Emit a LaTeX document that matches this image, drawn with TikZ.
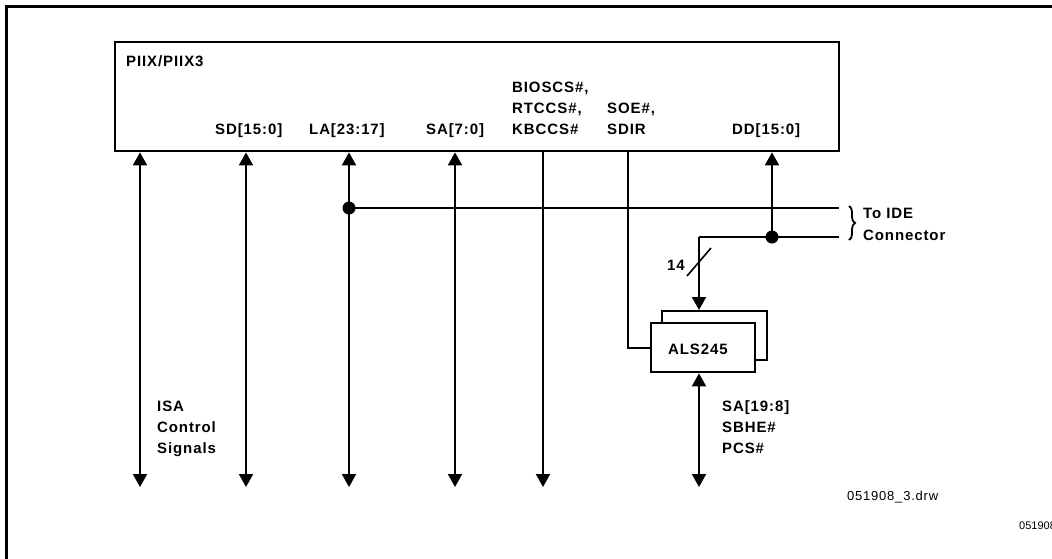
\documentclass[tikz,border=0pt]{standalone}
\usepackage{fontspec}
\setmainfont{Liberation Sans}
\newfontfamily\labfont[LetterSpace=6]{Liberation Sans}
\newfontfamily\drwfont[LetterSpace=6]{Liberation Sans}
\usetikzlibrary{arrows.meta,decorations.pathreplacing}
\begin{document}
\begin{tikzpicture}[x=1pt,y=-1pt,
  wire/.style={line width=2pt},
  chip/.style={draw,line width=2.4pt,inner sep=0pt,anchor=north west},
  lab/.style={anchor=base west,inner sep=0pt,font=\labfont\bfseries\fontsize{15}{21}\selectfont},
  tri/.tip={Triangle[width=14pt,length=13pt]},
  dot/.style={circle,fill,inner sep=0pt,minimum size=13pt}
]
\useasboundingbox (0,0) rectangle (1052,558);
% outer frame
\draw[line width=3pt] (1070,6) -- (6,6) -- (6,580);
% PIIX box
\node[chip,minimum width=724pt,minimum height=109pt] (piix) at (114,41) {};
\node[lab] (tpiix) at (126,66) {PIIX/PIIX3};
\node[lab] (tsd) at (215,134) {SD[15:0]};
\node[lab] (tla) at (309,134) {LA[23:17]};
\node[lab] (tsa) at (426,134) {SA[7:0]};
\node[lab] (tbios) at (512,92) {BIOSCS\#,};
\node[lab] (trtc) at (512,113) {RTCCS\#,};
\node[lab] (tkbc) at (512,134) {KBCCS\#};
\node[lab] (tsoe) at (607,113) {SOE\#,};
\node[lab] (tsdir) at (607,134) {SDIR};
\node[lab] (tdd) at (732,134) {DD[15:0]};
% bottom endpoints
\coordinate (isab) at (140,487);
\coordinate (sdb) at (246,487);
\coordinate (lab) at (349,487);
\coordinate (sab) at (455,487);
\coordinate (biosb) at (543,487);
\coordinate (alsb) at (699,487);
% ALS245 boxes
\node[chip,minimum width=105pt,minimum height=49pt] (alsback) at (661,310) {};
\node[chip,fill=white,minimum width=104pt,minimum height=49pt] (als) at (650,322) {};
\node[lab] (tals) at (668,354) {ALS245};
% junctions and connector ends
\coordinate (laj) at (349,208);
\coordinate (ddj) at (772,237);
\coordinate (ide1) at (839,208);
\coordinate (ide2) at (839,237);
\coordinate (bend) at (699,237);
\coordinate (soec) at (628,150);
% vertical buses
\draw[wire,tri-tri] (isab |- piix.south) -- (isab);
\draw[wire,tri-tri] (sdb |- piix.south) -- (sdb);
\draw[wire,tri-tri] (lab |- piix.south) -- (lab);
\draw[wire,tri-tri] (sab |- piix.south) -- (sab);
\draw[wire,-tri] (biosb |- piix.south) -- (biosb);
\draw[wire] (soec) |- (als.west);
\draw[wire,tri-] (ddj |- piix.south) -- (ddj);
\draw[wire] (laj) -- (ide1);
\draw[wire] (ide2) -- (bend);
\draw[wire,-tri] (bend) -- (bend |- alsback.north);
\draw[wire,tri-tri] (als.south -| alsb) -- (alsb);
\node[dot] (d1) at (laj) {};
\node[dot] (d2) at (ddj) {};
% bus width slash
\coordinate (sl1) at (687,276);
\coordinate (sl2) at (711,248);
\draw[line width=1.6pt] (sl1) -- (sl2);
\node[lab] (t14) at (667,270) {14};
% brace
\coordinate (br1) at (849,206);
\coordinate (br2) at (849,240);
\draw[line width=1.8pt,decorate,decoration={brace,amplitude=6pt}] (br1) -- (br2);
\node[lab] (tide1) at (863,218) {To IDE};
\node[lab] (tide2) at (863,240) {Connector};
% ISA label
\node[lab] (tisa1) at (157,411) {ISA};
\node[lab] (tisa2) at (157,432) {Control};
\node[lab] (tisa3) at (157,453) {Signals};
% SA[19:8] label
\node[lab] (tsa1) at (722,411) {SA[19:8]};
\node[lab] (tsa2) at (722,432) {SBHE\#};
\node[lab] (tsa3) at (722,453) {PCS\#};
% drawing ids
\node[anchor=base west,inner sep=0pt,font=\drwfont\fontsize{13}{15}\selectfont] (tdrw) at (847,500) {051908\_3.drw};
\node[anchor=base west,inner sep=0pt,font=\fontsize{11}{13}\selectfont] (tid) at (1019,529) {051908};
\end{tikzpicture}
\end{document}
